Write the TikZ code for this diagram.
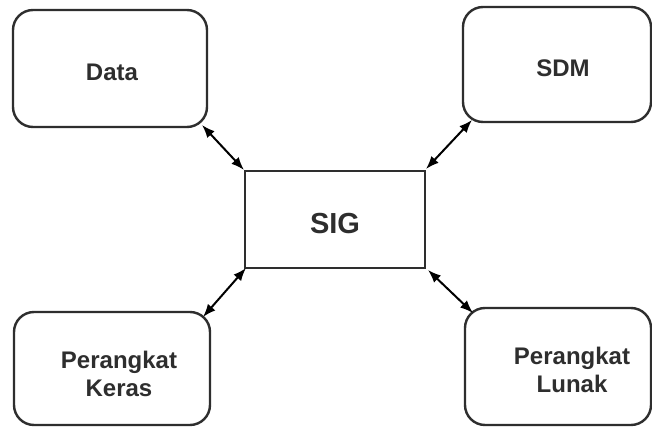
\documentclass[tikz,border=0pt]{standalone}
\usepackage{fontspec}
\setmainfont{Liberation Sans}
\usetikzlibrary{arrows.meta}
\definecolor{ink}{HTML}{2E2E2E}
\tikzset{
  x=1pt, y=-1pt,
  roundbox/.style={draw=ink, line width=2.4pt, rounded corners=20pt, inner sep=0pt},
  mainbox/.style={draw=ink, line width=2.4pt, inner sep=0pt},
  caption/.style={text=ink, font=\bfseries\fontsize{24}{28}\selectfont, align=center, inner sep=0pt},
  link/.style={draw=black, line width=2pt, {Latex[length=13pt,width=10pt]}-{Latex[length=13pt,width=10pt]}}
}
\begin{document}
\begin{tikzpicture}
\useasboundingbox[fill=white] (0,0) rectangle (652,427);

% outer boxes
\node[roundbox, minimum width=194pt, minimum height=117pt] (data) at (110,68.5) {};
\node[roundbox, minimum width=188pt, minimum height=115pt] (sdm) at (557,64.5) {};
\node[roundbox, minimum width=196pt, minimum height=113pt] (keras) at (112,368.5) {};
\node[roundbox, minimum width=186pt, minimum height=117pt] (lunak) at (558,366.5) {};

% central box
\node[mainbox, minimum width=180pt, minimum height=97pt] (sig) at (335,219.5) {};

% labels
\node[caption] (tdata) at (112,72) {Data};
\node[caption] (tsdm) at (563,68) {SDM};
\node[caption] (tkeras) at (119,374) {Perangkat\\Keras};
\node[caption] (tlunak) at (572,370) {Perangkat\\Lunak};
\node[caption, font=\bfseries\fontsize{29}{34}\selectfont] (tsig) at (335,224) {SIG};

% connector end points
\coordinate (d1) at (202,125);
\coordinate (d2) at (244,170);
\coordinate (s1) at (472,120);
\coordinate (s2) at (426,169);
\coordinate (k1) at (203,317);
\coordinate (k2) at (246,268);
\coordinate (l1) at (473,313);
\coordinate (l2) at (428,270);

% connectors
\draw[link] (d1) -- (d2);
\draw[link] (s1) -- (s2);
\draw[link] (k1) -- (k2);
\draw[link] (l1) -- (l2);
\end{tikzpicture}
\end{document}
